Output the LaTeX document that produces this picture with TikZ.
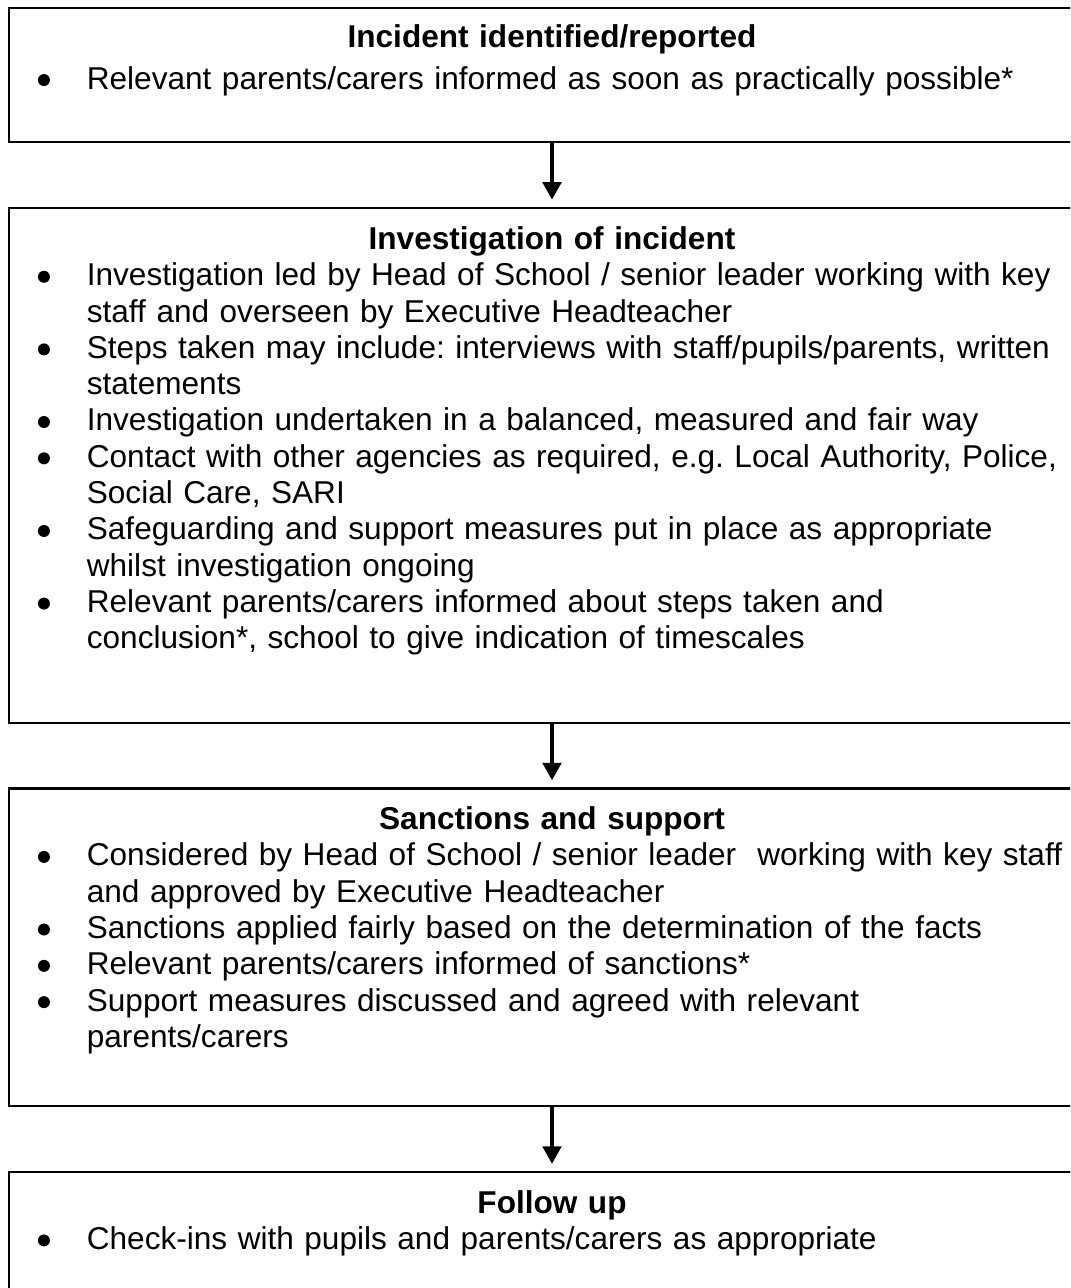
\documentclass[tikz,border=0pt]{standalone}
\usepackage{fontspec}
\setmainfont{Liberation Sans}
\usetikzlibrary{positioning,arrows.meta}
% bullet and list lines
\newcommand\bulletdot{\tikz[baseline=0pt]\fill (2.28pt,3.4pt) circle (2.28pt);}
\newcommand\bitem[1]{\par\noindent\hangindent=29.6pt\hangafter=1\makebox[29.6pt][l]{\hspace*{11pt}\bulletdot}#1\par}
\newcommand\boxtitle[1]{{\centering\strut\bfseries #1\par}}
\begin{document}
\begin{tikzpicture}[x=0.38pt,y=-0.38pt,
    flowbox/.style={draw,line width=0.85pt,minimum width=412.7pt,inner sep=0pt,anchor=north},
    boxtext/.style={text width=412.7pt,inner sep=0pt,align=left,font=\fontsize{12}{13.8}\selectfont\frenchspacing},
    flowarrow/.style={line width=1.4pt,-{Triangle[width=7pt,length=6.6pt]},shorten >=2.66pt},
    node distance=24.1pt]
    \useasboundingbox (0,0) rectangle (1070,1288);
    \clip (0,0) rectangle (1070,1288);
    % boxes
    \node[flowbox,minimum height=50.9pt] (b1) at (552,7) {};
    \node[flowbox,minimum height=195.7pt,below=of b1] (b2) {};
    \node[flowbox,minimum height=120.8pt,below=of b2] (b3) {};
    \node[flowbox,minimum height=76pt,below=of b3] (b4) {};
    % texts
    \node[boxtext,below=5.6pt of b1.north] (t1) {\boxtitle{Incident identified/reported}\vspace{1.9pt}
        \bitem{Relevant parents/carers informed as soon as practically possible*}};
    \node[boxtext,below=6.4pt of b2.north] (t2) {\boxtitle{Investigation of incident}
        \bitem{Investigation led by Head of School / senior leader working with key\newline staff and overseen by Executive Headteacher}
        \bitem{Steps taken may include: interviews with staff/pupils/parents, written\newline statements}
        \bitem{Investigation undertaken in a balanced, measured and fair way}
        \bitem{Contact with other agencies as required, e.g. Local Authority, Police,\newline Social Care, SARI}
        \bitem{Safeguarding and support measures put in place as appropriate\newline whilst investigation ongoing}
        \bitem{Relevant parents/carers informed about steps taken and\newline conclusion*, school to give indication of timescales}};
    \node[boxtext,below=6.2pt of b3.north] (t3) {\boxtitle{Sanctions and support}
        \bitem{Considered by Head of School / senior leader\ \ working with key staff\newline and approved by Executive Headteacher}
        \bitem{Sanctions applied fairly based on the determination of the facts}
        \bitem{Relevant parents/carers informed of sanctions*}
        \bitem{Support measures discussed and agreed with relevant\newline parents/carers}};
    \node[boxtext,below=6.2pt of b4.north] (t4) {\boxtitle{Follow up}
        \bitem{Check-ins with pupils and parents/carers as appropriate}};
    % arrows
    \draw[flowarrow] (b1) -- (b2);
    \draw[flowarrow] (b2) -- (b3);
    \draw[flowarrow] (b3) -- (b4);
\end{tikzpicture}
\end{document}
